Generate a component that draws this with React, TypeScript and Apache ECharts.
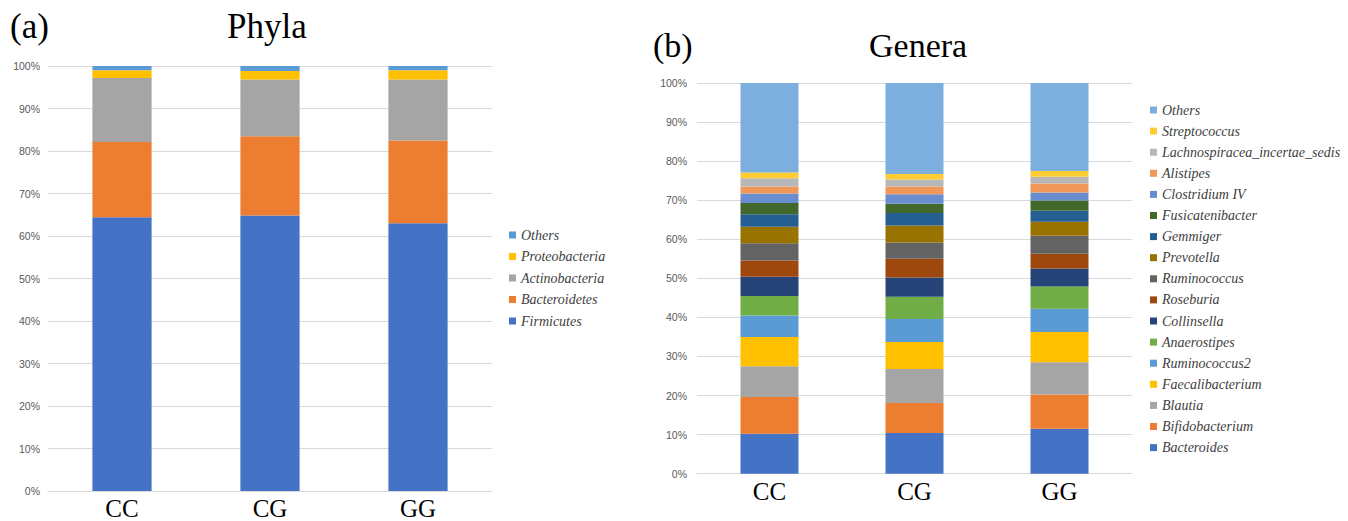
import React, { useEffect, useRef } from "react";
import * as echarts from "echarts";

const groups = ["CC", "CG", "GG"];
const yTicks = ["0%", "10%", "20%", "30%", "40%", "50%", "60%", "70%", "80%", "90%", "100%"];

// Phyla (bottom to top)
const phylaNames = ["Firmicutes", "Bacteroidetes", "Actinobacteria", "Proteobacteria", "Others"];
const firmicutes = [64.4, 64.8, 63.0];
const bacteroidetes = [17.7, 18.7, 19.5];
const actinobacteria = [15.1, 13.3, 14.3];
const proteobacteria = [1.8, 2.0, 2.2];
const othersPhyla = [1.0, 1.2, 1.0];
const phylaValues = [firmicutes, bacteroidetes, actinobacteria, proteobacteria, othersPhyla];
const phylaColors = ["#4472C4", "#ED7D31", "#A5A5A5", "#FFC000", "#5B9BD5"];

// Genera (bottom to top)
const generaNames = [
  "Bacteroides", "Bifidobacterium", "Blautia", "Faecalibacterium", "Ruminococcus2",
  "Anaerostipes", "Collinsella", "Roseburia", "Ruminococcus", "Prevotella", "Gemmiger",
  "Fusicatenibacter", "Clostridium IV", "Alistipes", "Lachnospiracea_incertae_sedis",
  "Streptococcus", "Others",
];
const bacteroides = [10.2, 10.4, 11.5];
const bifidobacterium = [9.4, 7.7, 8.8];
const blautia = [7.9, 8.7, 8.2];
const faecalibacterium = [7.5, 6.9, 7.8];
const ruminococcus2 = [5.5, 5.9, 5.9];
const anaerostipes = [5.0, 5.7, 5.7];
const collinsella = [4.9, 4.9, 4.6];
const roseburia = [4.2, 4.8, 3.8];
const ruminococcus = [4.4, 4.2, 4.6];
const prevotella = [4.2, 4.3, 3.6];
const gemmiger = [3.2, 3.2, 2.8];
const fusicatenibacter = [2.9, 2.4, 2.6];
const clostridiumIV = [2.4, 2.4, 2.1];
const alistipes = [1.8, 2.0, 2.3];
const lachnospiracea = [2.1, 1.8, 1.7];
const streptococcus = [1.5, 1.4, 1.5];
const othersGenera = [22.9, 23.3, 22.5];
const generaValues = [
  bacteroides, bifidobacterium, blautia, faecalibacterium, ruminococcus2, anaerostipes,
  collinsella, roseburia, ruminococcus, prevotella, gemmiger, fusicatenibacter,
  clostridiumIV, alistipes, lachnospiracea, streptococcus, othersGenera,
];
const generaColors = [
  "#4472C4", "#ED7D31", "#A5A5A5", "#FFC000", "#5B9BD5", "#70AD47", "#264478", "#9E480E",
  "#636363", "#997300", "#255E91", "#43682B", "#698ED0", "#F1975A", "#B7B7B7", "#FFCD33",
  "#7CAFDD",
];

const SERIF = "'Liberation Serif', 'Times New Roman', serif";
const SANS = "'Liberation Sans', Arial, sans-serif";
const SEP = "\u0001";

export default function App() {
  const ref = useRef<HTMLDivElement>(null);
  useEffect(() => {
    if (!ref.current) return;
    const chart = echarts.init(ref.current, undefined, { renderer: "svg" });

    const yAxisCommon = (gridIndex: number, margin: number) => ({
      type: "value",
      gridIndex,
      min: 0,
      max: 100,
      interval: 10,
      axisLine: { show: false },
      axisTick: { show: false },
      axisLabel: {
        margin,
        fontFamily: SANS,
        fontSize: 10.5,
        color: "#595959",
        formatter: (v: number) => yTicks[Math.round(v / 10)],
      },
      splitLine: { lineStyle: { color: "#D9D9D9", width: 1 } },
    });
    const xAxisCommon = (gridIndex: number, margin: number) => ({
      type: "category",
      gridIndex,
      data: groups,
      axisLine: { lineStyle: { color: "#D9D9D9" } },
      axisTick: { show: false },
      axisLabel: { margin, fontFamily: SERIF, fontSize: 25, color: "#000" },
    });

    const series: any[] = [];
    phylaNames.forEach((n, i) => {
      series.push({
        type: "bar",
        name: "P" + SEP + n,
        stack: "phyla",
        xAxisIndex: 0,
        yAxisIndex: 0,
        barWidth: "40%",
        data: phylaValues[i],
        itemStyle: { color: phylaColors[i] },
      });
    });
    generaNames.forEach((n, i) => {
      series.push({
        type: "bar",
        name: "G" + SEP + n,
        stack: "genera",
        xAxisIndex: 1,
        yAxisIndex: 1,
        barWidth: "40%",
        data: generaValues[i],
        itemStyle: { color: generaColors[i] },
      });
    });

    const legendText = {
      fontFamily: SERIF,
      fontStyle: "italic",
      fontSize: 14,
      lineHeight: 14,
      color: "#404040",
    };

    chart.setOption({
      animation: false,
      grid: [
        { left: 48, width: 444, top: 66, height: 425 },
        { left: 697, width: 435, top: 83, height: 390.7 },
      ],
      xAxis: [xAxisCommon(0, 5), xAxisCommon(1, 5)],
      yAxis: [yAxisCommon(0, 8), yAxisCommon(1, 10)],
      legend: [
        {
          orient: "vertical",
          left: 504,
          top: 223,
          itemWidth: 7,
          itemHeight: 7,
          itemGap: 7.5,
          icon: "rect",
          selectedMode: false,
          data: phylaNames.slice().reverse().map((n) => "P" + SEP + n),
          formatter: (name: string) => name.split(SEP)[1],
          textStyle: legendText,
        },
        {
          orient: "vertical",
          left: 1145,
          top: 98,
          itemWidth: 7,
          itemHeight: 7,
          itemGap: 7.1,
          icon: "rect",
          selectedMode: false,
          data: generaNames.slice().reverse().map((n) => "G" + SEP + n),
          formatter: (name: string) => name.split(SEP)[1],
          textStyle: legendText,
        },
      ],
      graphic: [
        { type: "text", left: 10, top: 9, style: { text: "(a)", font: `35px ${SERIF}`, fill: "#000" } },
        { type: "text", left: 227, top: 9, style: { text: "Phyla", font: `35px ${SERIF}`, fill: "#000" } },
        { type: "text", left: 653, top: 28, style: { text: "(b)", font: `34px ${SERIF}`, fill: "#000" } },
        { type: "text", left: 869, top: 28, style: { text: "Genera", font: `34px ${SERIF}`, fill: "#000" } },
      ],
      series,
    });

    return () => chart.dispose();
  }, []);

  return (
    <div
      ref={ref}
      style={{ position: "absolute", left: 0, top: 0, width: 1348, height: 521, background: "#fff" }}
    />
  );
}
